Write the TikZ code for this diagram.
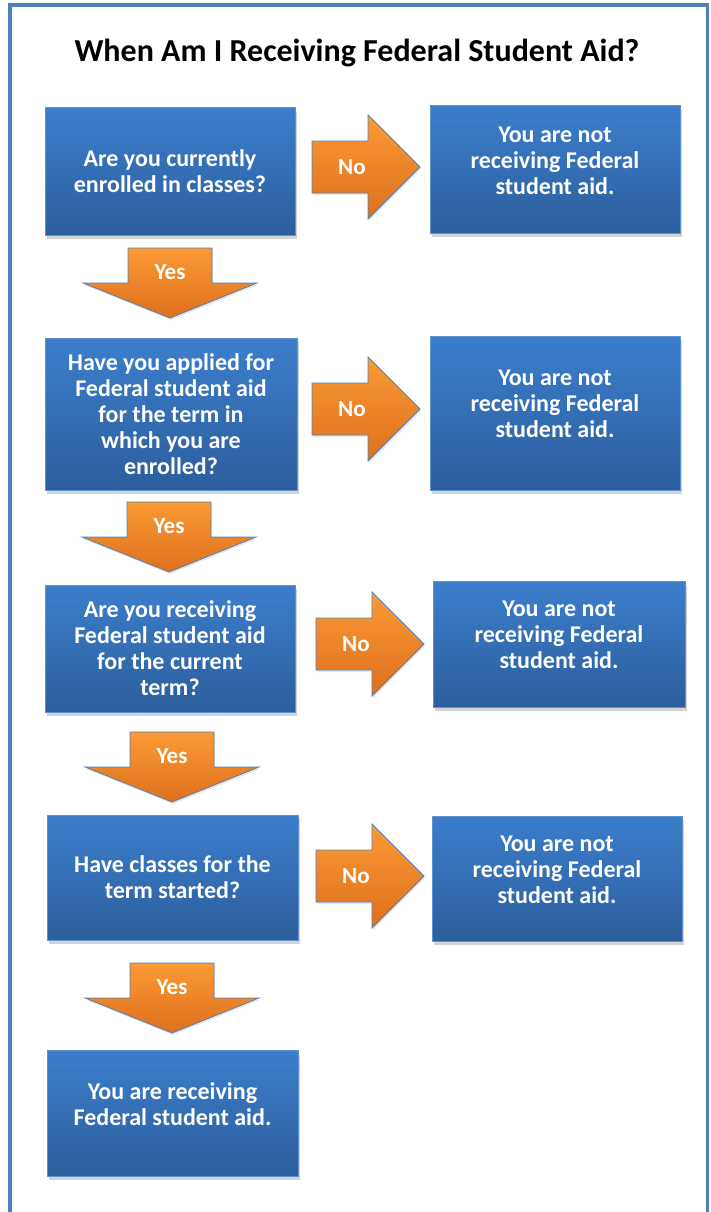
\documentclass[tikz,border=0pt]{standalone}
\usepackage{fontspec}
\setmainfont{Carlito}
\usetikzlibrary{shadows}

\definecolor{framecol}{RGB}{79,129,189}
\definecolor{boxline}{RGB}{96,146,206}
\definecolor{boxtop}{RGB}{60,126,204}
\definecolor{boxbot}{RGB}{44,94,156}
\definecolor{arrtop}{RGB}{251,154,52}
\definecolor{arrbot}{RGB}{222,112,30}

\begin{document}
\begin{tikzpicture}[x    = 1pt,
                    y    = -1pt,
                    font = \bfseries]
% styles of boxes and block arrows
\tikzset{qbox/.style={rectangle,draw=boxline,line width=1pt,
                      top color=boxtop,bottom color=boxbot,text=white,
                      align=center,inner sep=0pt,
                      minimum width=250pt,minimum height=127pt,
                      font=\fontsize{24}{26}\selectfont\bfseries,
                      drop shadow={shadow xshift=2pt,shadow yshift=-4pt,opacity=.35}},
         rbox/.style={qbox,text depth=18pt},
         ablock/.style={draw=framecol,line width=.8pt,
                        top color=arrtop,bottom color=arrbot,
                        drop shadow={shadow xshift=1pt,shadow yshift=-2pt,opacity=.2}},
         alabel/.style={text=white,font=\fontsize{23}{26}\selectfont\bfseries}}
\useasboundingbox (0,0) rectangle (710,1212);
% frame
\draw[framecol,line width=3.5pt] (10,1230) -- (10,5) -- (707.5,5) -- (707.5,1230);
% title
\node (title) at (357,53) {\fontsize{32}{36}\selectfont When Am I Receiving Federal Student Aid?};
% questions
\node[qbox] (q1) at (170,171.5) {Are you currently\\enrolled in classes?};
\node[qbox,minimum width=252pt,minimum height=152pt] (q2) at (171,414)
     {Have you applied for\\Federal student aid\\for the term in\\which you are\\enrolled?};
\node[qbox] (q3) at (170,648.5) {Are you receiving\\Federal student aid\\for the current\\term?};
\node[qbox,minimum width=251pt,minimum height=125pt] (q4) at (172.5,877.5)
     {Have classes for the\\term started?};
\node[rbox,minimum width=251pt,minimum height=126pt] (yes) at (172.5,1113)
     {You are receiving\\Federal student aid.};
% answers "no"
\node[rbox] (n1) at (555,169.5) {You are not\\receiving Federal\\student aid.};
\node[rbox,minimum height=154pt] (n2) at (555,413) {You are not\\receiving Federal\\student aid.};
\node[rbox,minimum width=252pt,minimum height=126pt] (n3) at (559,644)
     {You are not\\receiving Federal\\student aid.};
\node[rbox,minimum height=125pt] (n4) at (557,878.5) {You are not\\receiving Federal\\student aid.};
% arrows "No"
\foreach \x/\y [count=\i] in {312/167, 312/409, 316/644, 316/876}
{
  \draw[ablock] (\x,\y) ++(0,-26) -- ++(56,0) -- ++(0,-26) -- ++(52,52)
                -- ++(-52,52) -- ++(0,-26) -- ++(-56,0) -- cycle;
  \node[alabel] (no\i) at (\x+40,\y) {No};
}
% arrows "Yes"
\foreach \x/\y [count=\i] in {170/248, 169/502, 172/732, 172/963}
{
  \draw[ablock] (\x,\y) ++(-42,0) -- ++(84,0) -- ++(0,35) -- ++(45,0)
                -- ++(-87,35) -- ++(-87,-35) -- ++(45,0) -- cycle;
  \node[alabel] (yes\i) at (\x,\y+24) {Yes};
}
\end{tikzpicture}
\end{document}
